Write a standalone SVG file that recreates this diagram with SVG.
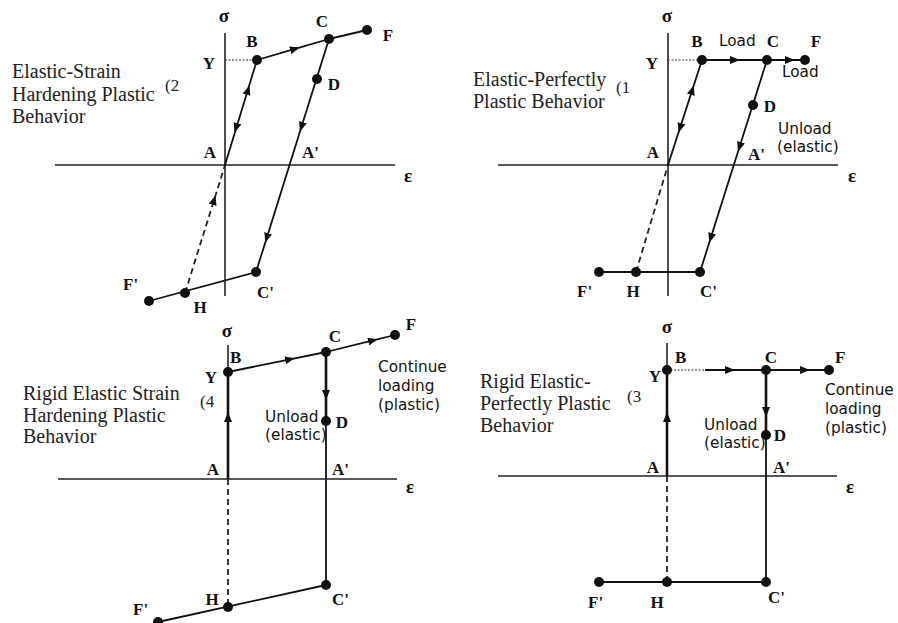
<svg xmlns="http://www.w3.org/2000/svg" width="898" height="623" viewBox="0 0 898 623">
<style>
.ax{stroke:#222;stroke-width:1.6;fill:none}
.ln{stroke:#111;stroke-width:1.8;fill:none}
.th{stroke:#111;stroke-width:2.6;fill:none}
.ds{stroke:#222;stroke-width:1.8;fill:none;stroke-dasharray:6,4}
.dt{stroke:#333;stroke-width:1.2;fill:none;stroke-dasharray:2,1.5}
.ar{marker-mid:url(#ah)}
.pt{fill:#111}
.lb{font-family:"Liberation Serif","Times New Roman",serif;font-weight:bold;font-size:17px;fill:#111}
.gk{font-family:"Liberation Serif","DejaVu Serif",serif;font-weight:bold;font-size:19px;fill:#111;text-anchor:middle}
.ds1{font-family:"Liberation Serif","Times New Roman",serif;font-size:20px;fill:#222}
.nt{font-family:"Liberation Serif","Times New Roman",serif;font-size:17px;fill:#222}
.sn{font-family:"DejaVu Sans","Open Sans",sans-serif;font-size:15.3px;fill:#111}
.c{text-anchor:middle}
</style>
<defs>
<marker id="ah" viewBox="0 0 10 8" refX="5" refY="4" markerWidth="10" markerHeight="8" markerUnits="userSpaceOnUse" orient="auto">
<path d="M0,0 L10,4 L0,8 z" fill="#111"/>
</marker>
<marker id="ahe" viewBox="0 0 10 8" refX="5" refY="4" markerWidth="10" markerHeight="8" markerUnits="userSpaceOnUse" orient="auto">
<path d="M0,0 L10,4 L0,8 z" fill="#111"/>
</marker>
</defs>

<!-- Axes -->
<g id="axes">
<line class="ax" x1="225" y1="33" x2="225" y2="296"/>
<line class="ax" x1="55" y1="165" x2="395" y2="165"/>
<line class="ax" x1="668" y1="33" x2="668" y2="296"/>
<line class="ax" x1="498" y1="165" x2="838" y2="165"/>
<line class="ax" x1="228" y1="345" x2="228" y2="479"/>
<line class="ax" x1="58" y1="479" x2="397" y2="479"/>
<line class="ax" x1="667" y1="343" x2="667" y2="476"/>
<line class="ax" x1="498" y1="476" x2="837" y2="476"/>
<text class="gk" x="224" y="22">σ</text>
<text class="gk" x="408" y="182">ε</text>
<text class="gk" x="667" y="22">σ</text>
<text class="gk" x="852" y="182">ε</text>
<text class="gk" x="227" y="337">σ</text>
<text class="gk" x="410" y="493">ε</text>
<text class="gk" x="667" y="333">σ</text>
<text class="gk" x="850" y="493">ε</text>
</g>

<!-- Connectors -->
<g id="connectors">
<!-- Q1 -->
<path class="dt" d="M225,60 L257,60"/>
<path class="ln" d="M225,165 L257,60"/>
<path class="ln" marker-end="url(#ahe)" d="M246.8,93.8 L248,90"/>
<path class="ln" marker-end="url(#ahe)" d="M237.2,124.2 L236,128"/>
<path class="ln ar" d="M257,60 L295,48.9 L329,39"/>
<path class="ln" d="M329,39 L367,30"/>
<path class="ln ar" d="M329,39 L301.4,127 L266.7,238 L256,272"/>
<path class="ln" d="M256,272 L149,301"/>
<path class="ds ar" d="M185,293 L214.1,200 L225,165"/>
<!-- Q2 -->
<path class="dt" d="M668,60 L702,60"/>
<path class="ln" d="M668,165 L702,60"/>
<path class="ln" marker-end="url(#ahe)" d="M691,94 L692.3,90"/>
<path class="ln" marker-end="url(#ahe)" d="M681.2,124.2 L680,128"/>
<path class="ln ar" d="M702,60 L735,60 L767,60"/>
<path class="ln ar" d="M767,60 L790,60 L805,60"/>
<path class="ln ar" d="M767,60 L739.5,147 L710.7,238 L700,272"/>
<path class="ln" d="M700,272 L599,272"/>
<path class="ds" d="M636,272 L668,165"/>
<!-- Q3 -->
<path class="th ar" d="M228,479 L228,417 L228,372"/>
<path class="ln ar" d="M228,372 L290,359.3 L326,352"/>
<path class="ln ar" d="M326,352 L373,340.4 L395,335"/>
<path class="th ar" d="M326,352 L326,395 L326,421"/>
<path class="ln" d="M326,421 L326,585"/>
<path class="ln" d="M326,585 L158,622"/>
<path class="ds" d="M228,479 L228,607"/>
<!-- Q4 -->
<path class="th ar" d="M667,476 L667,417 L667,370"/>
<path class="dt" d="M667,370 L705,370"/>
<path class="ln ar" d="M705,370 L730,370 L766,370"/>
<path class="ln ar" d="M766,370 L805,370 L829,370"/>
<path class="th ar" d="M766,370 L766,412 L766,435"/>
<path class="ln" d="M766,435 L766,582"/>
<path class="ln" d="M766,582 L599,582"/>
<path class="ds" d="M667,476 L667,582"/>
</g>

<!-- Q1 nodes -->
<g id="q1-title">
<text class="ds1" x="12" y="78">Elastic-Strain</text>
<text class="ds1" x="12" y="101">Hardening Plastic</text>
<text class="ds1" x="12" y="123">Behavior</text>
<text class="nt" x="165" y="91">(2</text>
</g>
<g id="q1-A"><text class="lb c" x="210" y="158">A</text></g>
<g id="q1-Y"><text class="lb c" x="209" y="69">Y</text></g>
<g id="q1-B"><circle class="pt" cx="257" cy="60" r="5"/><text class="lb c" x="252" y="47">B</text></g>
<g id="q1-C"><circle class="pt" cx="329" cy="39" r="5"/><text class="lb c" x="322" y="27">C</text></g>
<g id="q1-F"><circle class="pt" cx="367" cy="30" r="5"/><text class="lb c" x="388" y="41">F</text></g>
<g id="q1-D"><circle class="pt" cx="317" cy="79" r="5"/><text class="lb c" x="334" y="90">D</text></g>
<g id="q1-A2"><text class="lb" x="302" y="158">A'</text></g>
<g id="q1-C2"><circle class="pt" cx="256" cy="272" r="5"/><text class="lb" x="257" y="298">C'</text></g>
<g id="q1-H"><circle class="pt" cx="185" cy="293" r="5"/><text class="lb c" x="200" y="313">H</text></g>
<g id="q1-F2"><circle class="pt" cx="149" cy="301" r="5"/><text class="lb" x="123" y="290">F'</text></g>

<!-- Q2 nodes -->
<g id="q2-title">
<text class="ds1" x="473" y="86">Elastic-Perfectly</text>
<text class="ds1" x="473" y="108">Plastic Behavior</text>
<text class="nt" x="616" y="93">(1</text>
</g>
<g id="q2-A"><text class="lb c" x="653" y="158">A</text></g>
<g id="q2-Y"><text class="lb c" x="652" y="69">Y</text></g>
<g id="q2-B"><circle class="pt" cx="702" cy="60" r="5"/><text class="lb c" x="697" y="47">B</text></g>
<g id="q2-load1"><text class="sn" x="719" y="46">Load</text></g>
<g id="q2-C"><circle class="pt" cx="767" cy="60" r="5"/><text class="lb c" x="773" y="47">C</text></g>
<g id="q2-F"><circle class="pt" cx="805" cy="60" r="5"/><text class="lb c" x="816" y="47">F</text></g>
<g id="q2-load2"><text class="sn" x="782" y="77">Load</text></g>
<g id="q2-D"><circle class="pt" cx="753" cy="105" r="5"/><text class="lb c" x="770" y="112">D</text></g>
<g id="q2-unload"><text class="sn" x="778" y="134">Unload</text><text class="sn" x="777" y="152">(elastic)</text></g>
<g id="q2-A2"><text class="lb" x="748" y="160">A'</text></g>
<g id="q2-C2"><circle class="pt" cx="700" cy="272" r="5"/><text class="lb" x="700" y="297">C'</text></g>
<g id="q2-H"><circle class="pt" cx="636" cy="272" r="5"/><text class="lb c" x="633" y="297">H</text></g>
<g id="q2-F2"><circle class="pt" cx="599" cy="272" r="5"/><text class="lb" x="577" y="297">F'</text></g>

<!-- Q3 nodes -->
<g id="q3-title">
<text class="ds1" x="23" y="400">Rigid Elastic Strain</text>
<text class="ds1" x="23" y="422">Hardening Plastic</text>
<text class="ds1" x="23" y="443">Behavior</text>
<text class="nt" x="200" y="407">(4</text>
</g>
<g id="q3-Y"><circle class="pt" cx="228" cy="372" r="5"/><text class="lb c" x="211" y="383">Y</text></g>
<g id="q3-B"><text class="lb" x="230" y="363">B</text></g>
<g id="q3-C"><circle class="pt" cx="326" cy="352" r="5"/><text class="lb c" x="335" y="342">C</text></g>
<g id="q3-F"><circle class="pt" cx="395" cy="335" r="5"/><text class="lb c" x="411" y="330">F</text></g>
<g id="q3-cont"><text class="sn" x="378" y="372">Continue</text><text class="sn" x="378" y="391">loading</text><text class="sn" x="378" y="410">(plastic)</text></g>
<g id="q3-D"><circle class="pt" cx="326" cy="421" r="5"/><text class="lb c" x="342" y="428">D</text></g>
<g id="q3-unload"><text class="sn" x="265" y="422">Unload</text><text class="sn" x="265" y="440">(elastic)</text></g>
<g id="q3-A"><text class="lb c" x="213" y="475">A</text></g>
<g id="q3-A2"><text class="lb" x="332" y="475">A'</text></g>
<g id="q3-C2"><circle class="pt" cx="326" cy="585" r="5"/><text class="lb" x="332" y="605">C'</text></g>
<g id="q3-H"><circle class="pt" cx="228" cy="607" r="5"/><text class="lb c" x="212" y="605">H</text></g>
<g id="q3-F2"><circle class="pt" cx="158" cy="622" r="5"/><text class="lb" x="133" y="615">F'</text></g>

<!-- Q4 nodes -->
<g id="q4-title">
<text class="ds1" x="480" y="388">Rigid Elastic-</text>
<text class="ds1" x="480" y="410">Perfectly Plastic</text>
<text class="ds1" x="480" y="432">Behavior</text>
<text class="nt" x="627" y="402">(3</text>
</g>
<g id="q4-Y"><circle class="pt" cx="667" cy="370" r="5"/><text class="lb c" x="655" y="382">Y</text></g>
<g id="q4-B"><text class="lb" x="675" y="363">B</text></g>
<g id="q4-C"><circle class="pt" cx="766" cy="370" r="5"/><text class="lb c" x="771" y="363">C</text></g>
<g id="q4-F"><circle class="pt" cx="829" cy="370" r="5"/><text class="lb" x="835" y="363">F</text></g>
<g id="q4-cont"><text class="sn" x="825" y="395">Continue</text><text class="sn" x="825" y="414">loading</text><text class="sn" x="825" y="433">(plastic)</text></g>
<g id="q4-D"><circle class="pt" cx="766" cy="435" r="5"/><text class="lb c" x="780" y="441">D</text></g>
<g id="q4-unload"><text class="sn" x="704" y="430">Unload</text><text class="sn" x="704" y="448">(elastic)</text></g>
<g id="q4-A"><text class="lb c" x="653" y="473">A</text></g>
<g id="q4-A2"><text class="lb" x="773" y="473">A'</text></g>
<g id="q4-C2"><circle class="pt" cx="766" cy="582" r="5"/><text class="lb" x="768" y="603">C'</text></g>
<g id="q4-H"><circle class="pt" cx="667" cy="582" r="5"/><text class="lb c" x="657" y="608">H</text></g>
<g id="q4-F2"><circle class="pt" cx="599" cy="582" r="5"/><text class="lb" x="588" y="608">F'</text></g>
</svg>
